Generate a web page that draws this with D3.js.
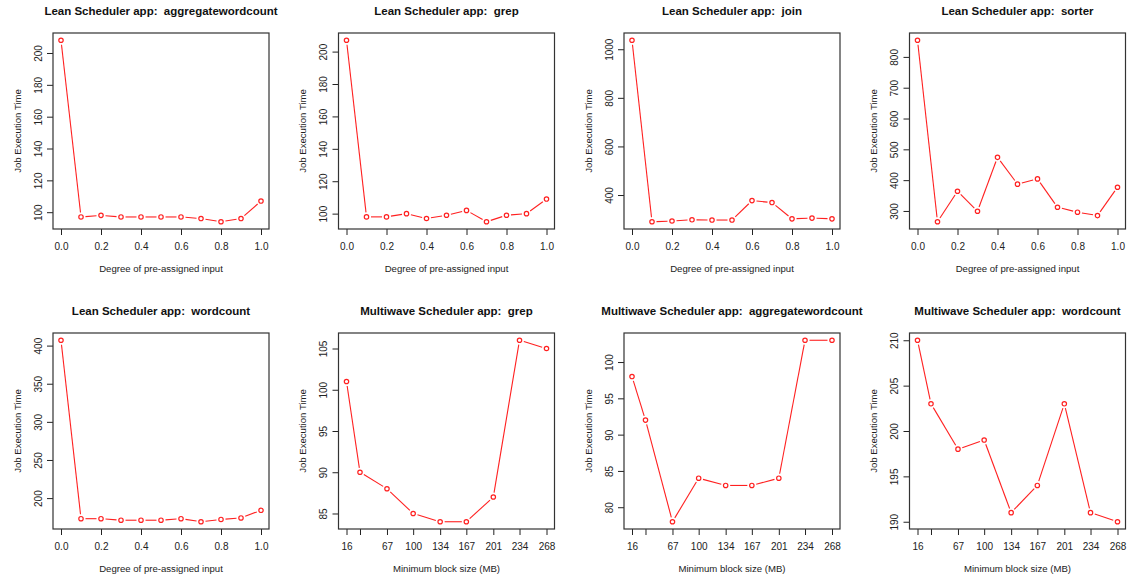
<!DOCTYPE html>
<html>
<head>
<meta charset="utf-8">
<script src="https://cdn.jsdelivr.net/npm/d3@7"></script>
<style>
  body { margin: 0; background: #fff; }
  svg { display: block; font-family: "Liberation Sans", Arial, Helvetica, sans-serif; }
  .title { white-space: pre; }
</style>
</head>
<body>
<svg id="chart" width="1129" height="580"></svg>
<script>
// x values
const leanX = [0, 0.1, 0.2, 0.3, 0.4, 0.5, 0.6, 0.7, 0.8, 0.9, 1.0];
const leanTicks = [0, 0.2, 0.4, 0.6, 0.8, 1.0];
const blockX = [16, 33, 67, 100, 134, 167, 201, 234, 268];
const blockLabels = ["16", "", "67", "100", "134", "167", "201", "234", "268"];

// job execution times
const leanAggregate = [208, 97, 98, 97, 97, 97, 97, 96, 94, 96, 107];
const leanGrep = [207, 98, 98, 100, 97, 99, 102, 95, 99, 100, 109];
const leanJoin = [1037, 290, 293, 298, 297, 297, 377, 369, 302, 305, 302];
const leanSorter = [854, 265, 364, 299, 474, 387, 404, 312, 296, 285, 377];
const leanWordcount = [407, 173, 173, 171, 171, 171, 173, 169, 172, 174, 184];
const multiGrep = [101, 90, 88, 85, 84, 84, 87, 106, 105];
const multiAggregate = [98, 92, 78, 84, 83, 83, 84, 103, 103];
const multiWordcount = [210, 203, 198, 199, 191, 194, 203, 191, 190];

const leanLabel = "Degree of pre-assigned input";
const blockLabel = "Minimum block size (MB)";

const panels = [
    { title: "Lean Scheduler app:  aggregatewordcount", xs: leanX, ys: leanAggregate, lean: true },
    { title: "Lean Scheduler app:  grep", xs: leanX, ys: leanGrep, lean: true },
    { title: "Lean Scheduler app:  join", xs: leanX, ys: leanJoin, lean: true },
    { title: "Lean Scheduler app:  sorter", xs: leanX, ys: leanSorter, lean: true },
    { title: "Lean Scheduler app:  wordcount", xs: leanX, ys: leanWordcount, lean: true },
    { title: "Multiwave Scheduler app:  grep", xs: blockX, ys: multiGrep, lean: false },
    { title: "Multiwave Scheduler app:  aggregatewordcount", xs: blockX, ys: multiAggregate, lean: false },
    { title: "Multiwave Scheduler app:  wordcount", xs: blockX, ys: multiWordcount, lean: false },
];

const panelW = 285.5, panelH = 300;
const box = { left: 53, top: 33, w: 216, h: 196 };
const red = "#ff2020";

// R style axis range: data extent padded by 4% each side
function padded(ext) {
    const r = ext[1] - ext[0];
    return [ext[0] - 0.04 * r, ext[1] + 0.04 * r];
}

const svg = d3.select("#chart");

panels.forEach((p, i) => {
    const col = i % 4, row = Math.floor(i / 4);
    const g = svg.append("g")
        .attr("transform", `translate(${col * panelW}, ${row * panelH})`);

    const x = d3.scaleLinear()
        .domain(padded(d3.extent(p.xs)))
        .range([box.left, box.left + box.w]);
    const y = d3.scaleLinear()
        .domain(padded(d3.extent(p.ys)))
        .range([box.top + box.h, box.top]);

    // x axis
    const xAxis = d3.axisBottom(x)
        .tickSize(6)
        .tickSizeOuter(0)
        .tickValues(p.lean ? leanTicks : blockX)
        .tickFormat(p.lean ? d3.format(".1f") : (d, k) => blockLabels[k]);
    const gx = g.append("g")
        .attr("transform", `translate(0, ${box.top + box.h})`)
        .call(xAxis);
    gx.select(".domain").remove();
    gx.selectAll(".tick line").attr("stroke", "#222");
    gx.selectAll(".tick text")
        .attr("y", 20.5)
        .attr("dy", null)
        .attr("font-size", 10)
        .attr("fill", "#222");

    // y axis, labels parallel to axis
    const yAxis = d3.axisLeft(y)
        .tickSize(6)
        .tickSizeOuter(0)
        .ticks(5)
        .tickFormat(d3.format("d"));
    const gy = g.append("g")
        .attr("transform", `translate(${box.left}, 0)`)
        .call(yAxis);
    gy.select(".domain").remove();
    gy.selectAll(".tick line").attr("stroke", "#222");
    gy.selectAll(".tick text")
        .attr("x", null)
        .attr("dy", null)
        .attr("text-anchor", "middle")
        .attr("transform", "translate(-11.5, 0) rotate(-90)")
        .attr("font-size", 10)
        .attr("fill", "#222");

    // data line (type "b": segments stop short of the points)
    const gap = 4.5;
    const pts = p.xs.map((v, k) => [x(v), y(p.ys[k])]);
    const segs = d3.pairs(pts).map(([a, b]) => {
        const dx = b[0] - a[0], dy = b[1] - a[1];
        const len = Math.hypot(dx, dy);
        if (len <= 2 * gap) return null;
        const ux = dx / len, uy = dy / len;
        return [a[0] + ux * gap, a[1] + uy * gap, b[0] - ux * gap, b[1] - uy * gap];
    }).filter(s => s);

    g.append("g")
        .selectAll("line")
        .data(segs)
        .join("line")
        .attr("x1", d => d[0])
        .attr("y1", d => d[1])
        .attr("x2", d => d[2])
        .attr("y2", d => d[3])
        .attr("stroke", red)
        .attr("stroke-width", 1.1);

    g.append("g")
        .selectAll("circle")
        .data(pts)
        .join("circle")
        .attr("cx", d => d[0])
        .attr("cy", d => d[1])
        .attr("r", 2.2)
        .attr("fill", "none")
        .attr("stroke", red)
        .attr("stroke-width", 1.2);

    // box
    g.append("rect")
        .attr("x", box.left)
        .attr("y", box.top)
        .attr("width", box.w)
        .attr("height", box.h)
        .attr("fill", "none")
        .attr("stroke", "#333")
        .attr("stroke-width", 1.2);

    // titles
    g.append("text")
        .attr("class", "title")
        .attr("x", box.left + box.w / 2)
        .attr("y", 14.5)
        .attr("text-anchor", "middle")
        .attr("font-size", 11.5)
        .attr("font-weight", "bold")
        .attr("fill", "#111")
        .text(p.title);

    g.append("text")
        .attr("x", box.left + box.w / 2)
        .attr("y", box.top + box.h + 43)
        .attr("text-anchor", "middle")
        .attr("font-size", 9.6)
        .attr("fill", "#222")
        .text(p.lean ? leanLabel : blockLabel);

    g.append("text")
        .attr("transform", `translate(20.5, ${box.top + box.h / 2}) rotate(-90)`)
        .attr("text-anchor", "middle")
        .attr("font-size", 9.6)
        .attr("fill", "#222")
        .text("Job Execution Time");
});
</script>
</body>
</html>
